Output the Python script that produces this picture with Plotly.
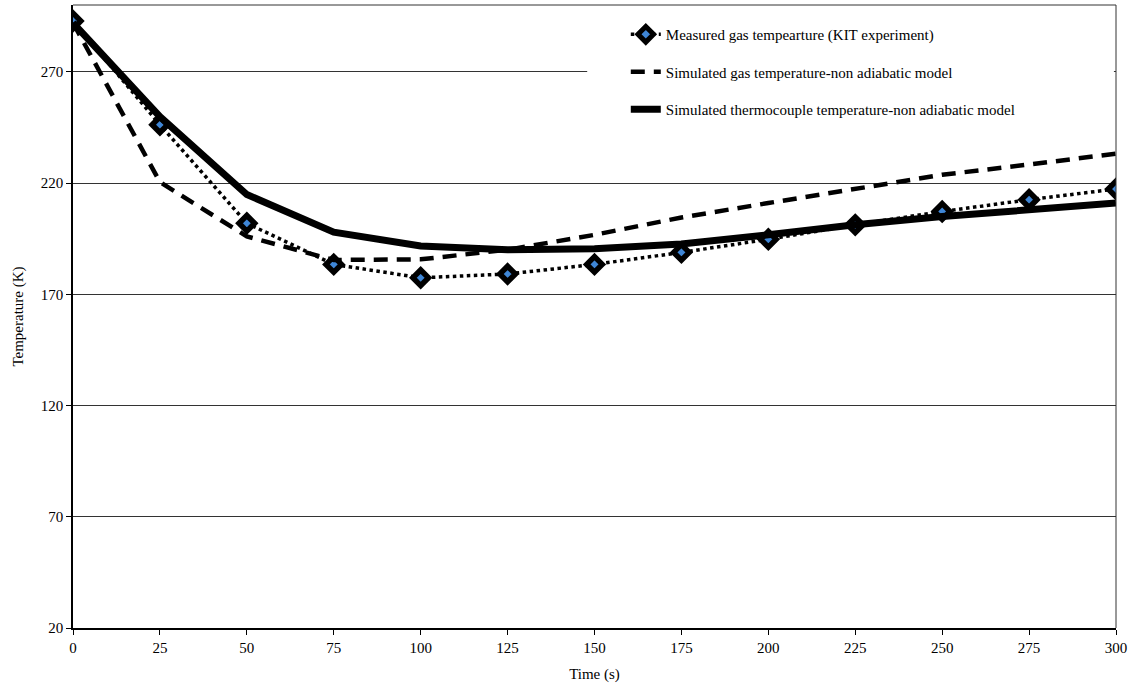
import plotly.graph_objects as go

time_s = [0, 25, 50, 75, 100, 125, 150, 175, 200, 225, 250, 275, 300]
measured = [292.8, 246.2, 201.9, 183.4, 177.4, 179.1, 183.4, 188.8, 194.7, 201.2, 207.2, 212.5, 217.3]
sim_gas = [292.0, 220.4, 196.0, 185.4, 185.7, 190.0, 196.7, 204.5, 211.0, 217.3, 223.7, 228.3, 233.2]
sim_tc = [292.0, 249.8, 214.8, 197.9, 191.7, 190.0, 190.5, 192.6, 196.7, 201.2, 204.9, 208.0, 211.0]

names = ["Measured gas tempearture (KIT experiment)",
         "Simulated gas temperature-non adiabatic model",
         "Simulated thermocouple temperature-non adiabatic model"]

FONT = "Liberation Serif"

fig = go.Figure()
fig.add_trace(go.Scatter(
    x=time_s, y=measured, name=names[0], mode="lines+markers", legendgroup="a",
    line=dict(color="black", width=3.5, dash="dot"),
    marker=dict(symbol="diamond", size=12, color="#3f86d6",
                line=dict(color="black", width=5.5)),
))
fig.add_trace(go.Scatter(
    x=time_s, y=sim_gas, name=names[1], mode="lines", legendgroup="b",
    line=dict(color="black", width=4.5, dash="14px,9px"),
))
fig.add_trace(go.Scatter(
    x=time_s, y=sim_tc, name=names[2], mode="lines", legendgroup="c",
    line=dict(color="black", width=7),
))

fig.update_layout(
    width=1137, height=688,
    margin=dict(l=73, r=21, t=5, b=60),
    paper_bgcolor="white", plot_bgcolor="white",
    font=dict(family=FONT, size=15, color="black"),
    legend=dict(x=0.53, y=0.979, xanchor="left", yanchor="top",
                bgcolor="white", borderwidth=0,
                font=dict(family=FONT, size=15, color="black"),
                tracegroupgap=15, traceorder="grouped"),
    xaxis=dict(range=[0, 300], tickmode="array", tickvals=time_s,
               ticks="outside", ticklen=5, tickcolor="black",
               showline=True, linecolor="black", linewidth=1.5,
               mirror=False, showgrid=False, zeroline=False,
               title=dict(text="Time (s)", font=dict(family=FONT, size=15), standoff=14),
               tickfont=dict(family=FONT, size=15)),
    yaxis=dict(range=[20, 300], tickmode="array", tickvals=[20, 70, 120, 170, 220, 270],
               ticks="outside", ticklen=5, tickcolor="black",
               showline=True, linecolor="black", linewidth=1.5,
               showgrid=True, gridcolor="#333333", gridwidth=1, zeroline=False,
               title=dict(text="Temperature (K)", font=dict(family=FONT, size=15), standoff=14),
               tickfont=dict(family=FONT, size=15)),
)

# white legend area hiding the gridline behind the legend box (no traces there)
fig.add_shape(type="rect", xref="paper", yref="paper", x0=0.493, x1=0.998,
              y0=0.835, y1=0.998, layer="above",
              fillcolor="white", line=dict(width=0))
fig.add_shape(type="line", xref="paper", yref="paper", x0=1, x1=1, y0=0, y1=1,
              line=dict(color="#333333", width=1))
fig.add_shape(type="line", xref="paper", yref="paper", x0=0, x1=1, y0=1, y1=1,
              line=dict(color="#333333", width=1))

fig.write_html("out.html", config={"displayModeBar": False},
               post_script="document.body.style.margin='0';")
